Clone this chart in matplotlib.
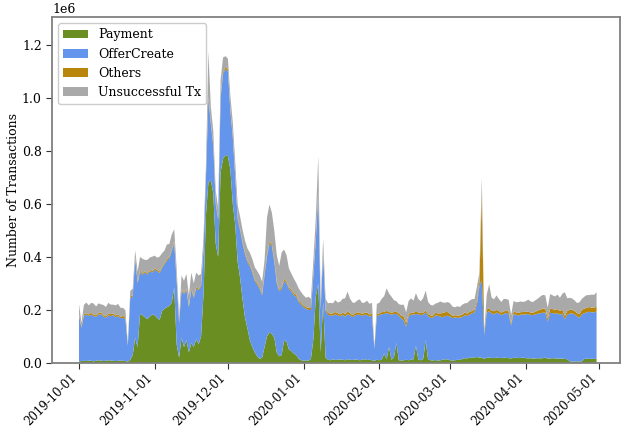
# Daily XRP ledger transactions by type, Oct 2019 - Apr 2020 (stacked)

import numpy as np
import pandas as pd
import matplotlib
matplotlib.use('Agg')
import matplotlib.pyplot as plt
import matplotlib.dates as mdates

plt.rcParams['font.family'] = ['DejaVu Serif']

dates = pd.date_range('2019-10-01', '2020-04-30', freq='D')

# values in thousands of transactions per day, one line per month (Oct .. Apr)
payment = [
    6, 7, 8, 7, 9, 8, 6, 8, 10, 9, 7, 8, 10, 9, 8, 7, 8, 9, 8, 7, 5, 12, 30, 95, 60, 185, 180, 172, 165, 175, 183,
    180, 170, 162, 195, 205, 210, 215, 228, 285, 70, 20, 95, 60, 85, 40, 75, 60, 90, 70, 100, 260, 560, 680, 690, 640, 450, 400, 720, 770, 785,
    780, 730, 600, 520, 380, 320, 240, 170, 130, 85, 60, 40, 25, 15, 20, 60, 100, 115, 110, 95, 40, 25, 30, 85, 80, 50, 45, 35, 30, 15, 10,
    8, 10, 8, 15, 90, 250, 300, 40, 230, 20, 12, 10, 14, 11, 12, 13, 12, 10, 14, 12, 11, 13, 12, 10, 12, 14, 11, 12, 10, 8, 12,
    10, 12, 35, 14, 60, 12, 20, 75, 10, 9, 10, 12, 10, 12, 14, 65, 12, 10, 15, 85, 12, 10, 9, 11, 8, 10, 12, 14, 13,
    10, 9, 10, 12, 11, 15, 18, 17, 20, 19, 21, 22, 20, 20, 15, 20, 20, 19, 18, 20, 19, 18, 20, 19, 18, 17, 19, 20, 18, 19, 20,
    18, 17, 18, 16, 17, 18, 17, 18, 20, 16, 17, 18, 17, 16, 17, 16, 15, 14, 6, 5, 5, 6, 5, 6, 15, 16, 15, 16, 15, 16,
]
offer_create = [
    172, 125, 170, 176, 168, 174, 171, 166, 172, 175, 168, 162, 170, 167, 173, 165, 169, 160, 162, 158, 60, 235, 220, 300, 240, 160, 152, 170, 168, 172, 158,
    172, 176, 178, 163, 168, 176, 180, 195, 168, 240, 130, 180, 200, 190, 170, 200, 185, 190, 205, 190, 170, 140, 320, 210, 180, 150, 140, 280, 320, 325,
    320, 220, 250, 180, 160, 180, 210, 240, 250, 280, 280, 270, 270, 265, 235, 270, 300, 335, 330, 285, 260, 245, 250, 225, 220, 230, 225, 220, 220, 215, 210,
    202, 195, 192, 185, 240, 210, 340, 160, 190, 175, 170, 168, 165, 172, 168, 163, 170, 165, 170, 168, 162, 166, 170, 172, 165, 168, 170, 163, 168, 45, 165,
    170, 172, 150, 175, 125, 170, 165, 110, 168, 160, 150, 125, 165, 170, 168, 120, 172, 170, 168, 105, 165, 160, 162, 168, 170, 165, 160, 163, 165,
    165, 160, 162, 158, 160, 158, 162, 160, 163, 168, 170, 200, 270, 290, 90, 170, 175, 168, 165, 170, 168, 162, 165, 170, 166, 125, 165, 162, 160, 164, 162,
    165, 168, 162, 165, 166, 168, 170, 172, 170, 140, 172, 170, 168, 172, 165, 170, 150, 168, 180, 182, 178, 170, 165, 178, 172, 175, 178, 175, 176, 178,
]
others = [
    6, 4, 6, 5, 6, 7, 5, 6, 6, 7, 5, 6, 6, 8, 6, 7, 6, 5, 8, 6, 2, 5, 5, 5, 5, 5, 6, 5, 6, 5, 6,
    5, 6, 5, 6, 5, 6, 6, 6, 7, 5, 4, 5, 5, 6, 5, 6, 5, 6, 5, 6, 5, 5, 6, 6, 6, 5, 5, 8, 8, 8,
    8, 7, 7, 6, 6, 7, 7, 6, 7, 6, 7, 6, 7, 6, 7, 8, 9, 8, 7, 8, 7, 6, 7, 8, 7, 6, 7, 8, 7, 6, 7,
    7, 6, 8, 7, 8, 9, 10, 5, 8, 7, 8, 7, 8, 9, 8, 7, 8, 9, 10, 8, 7, 8, 9, 8, 7, 8, 9, 8, 7, 2, 8,
    7, 8, 7, 8, 7, 8, 7, 8, 9, 10, 15, 14, 8, 7, 8, 8, 7, 8, 7, 8, 8, 9, 8, 10, 9, 12, 16, 15, 14,
    10, 9, 8, 9, 8, 9, 10, 9, 10, 9, 10, 12, 15, 330, 5, 12, 12, 10, 12, 10, 9, 10, 9, 10, 9, 8, 10, 9, 10, 9, 10,
    10, 9, 10, 9, 10, 12, 14, 15, 15, 12, 16, 15, 16, 15, 14, 15, 12, 14, 15, 14, 13, 12, 14, 16, 18, 17, 18, 17, 18, 18,
]
unsuccessful = [
    38, 15, 35, 40, 34, 38, 42, 33, 37, 30, 39, 35, 41, 36, 33, 38, 40, 34, 30, 28, 8, 20, 25, 25, 40, 50, 55, 42, 50, 46, 54,
    48, 45, 56, 50, 46, 55, 48, 56, 45, 40, 20, 50, 45, 55, 40, 60, 50, 55, 50, 40, 40, 40, 170, 60, 50, 45, 40, 60, 55, 40,
    40, 50, 50, 50, 50, 45, 45, 45, 45, 45, 45, 45, 45, 45, 45, 50, 140, 140, 120, 110, 100, 90, 130, 110, 100, 70, 60, 55, 45, 45, 40,
    38, 35, 42, 35, 50, 80, 130, 30, 40, 40, 35, 42, 38, 45, 40, 48, 52, 60, 75, 55, 48, 40, 45, 50, 42, 38, 45, 40, 42, 5, 38,
    40, 50, 60, 85, 70, 60, 45, 40, 35, 40, 45, 40, 50, 55, 45, 70, 50, 45, 55, 75, 45, 40, 38, 35, 40, 45, 40, 35, 38,
    40, 35, 30, 35, 32, 38, 35, 40, 42, 45, 40, 55, 35, 60, 7, 55, 90, 50, 45, 55, 45, 40, 48, 42, 45, 30, 40, 38, 42, 40, 38,
    40, 45, 42, 40, 44, 45, 50, 52, 50, 40, 55, 52, 50, 55, 50, 60, 90, 48, 45, 42, 40, 38, 45, 42, 45, 48, 45, 50, 48, 55,
]

labels = ['Payment', 'OfferCreate', 'Others', 'Unsuccessful Tx']
colors = ['olivedrab', 'cornflowerblue', 'darkgoldenrod', 'darkgray']

series = [np.array(s) * 1000 for s in (payment, offer_create, others, unsuccessful)]

fig = plt.figure(figsize=(6.21, 4.30), dpi=100)
ax = fig.add_axes([0.084, 0.156, 0.914, 0.804])

ax.stackplot(dates, *series, labels=labels, colors=colors, linewidth=0)

ax.set_xlim(dates[0] - pd.Timedelta(days=11), dates[-1] + pd.Timedelta(days=9.5))
ax.set_ylim(0, 1.305e6)
ax.set_yticks(np.arange(0, 1.21e6, 0.2e6))

ax.xaxis.set_major_locator(mdates.MonthLocator())
ax.xaxis.set_major_formatter(mdates.DateFormatter('%Y-%m-%d'))

ax.tick_params(labelsize=9, length=4, color='#333333')
ax.tick_params(axis='x', labelsize=8.5, pad=2)
plt.setp(ax.get_xticklabels(), rotation=45, ha='right')
ax.yaxis.get_offset_text().set_fontsize(9)
ax.set_ylabel('Number of Transactions', fontsize=9, labelpad=1)

for sp in ax.spines.values():
    sp.set_color('#808080')
    sp.set_linewidth(1.3)

ax.legend(loc='upper left', fontsize=9, edgecolor='#cccccc', framealpha=1.0)

fig.savefig('out.png', dpi=100)
plt.close()
